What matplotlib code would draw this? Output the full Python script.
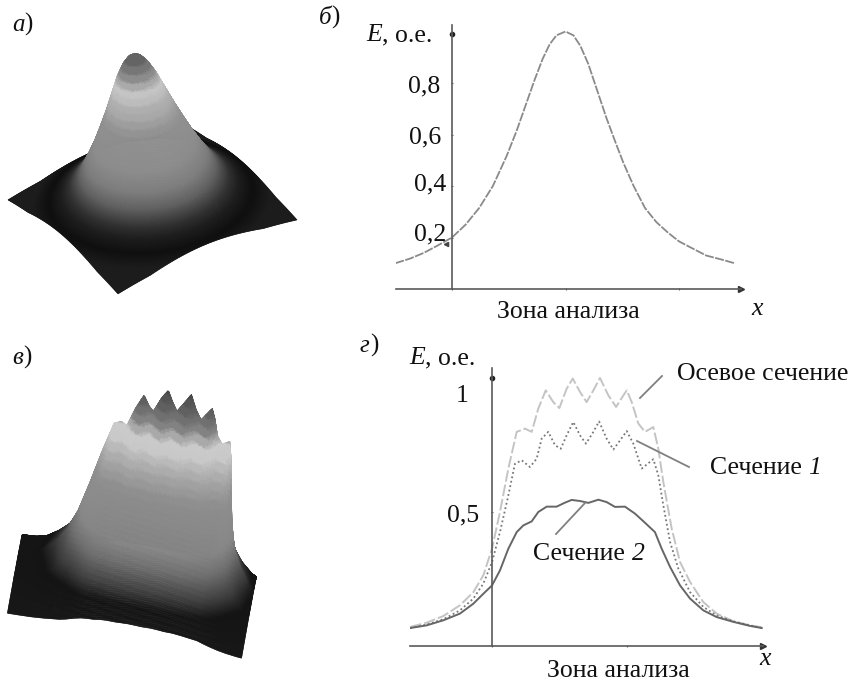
import numpy as np
import matplotlib
matplotlib.use('Agg')
import matplotlib.pyplot as plt
from matplotlib.collections import PolyCollection

# panel b: profile
E_X = [-0.5, -0.37, -0.25, -0.13, 0, 0.12, 0.24, 0.36, 0.48, 0.57, 0.65, 0.73, 0.80, 0.86, 0.92, 1.0,
       1.07, 1.13, 1.2, 1.28, 1.36, 1.44, 1.51, 1.6, 1.7, 1.8, 1.9, 2.0, 2.13, 2.24, 2.37, 2.49]
E_Y = [0.10, 0.118, 0.14, 0.168, 0.20, 0.25, 0.315, 0.40, 0.515, 0.615, 0.715, 0.815, 0.895, 0.95, 0.985, 1.0,
       0.985, 0.945, 0.875, 0.77, 0.665, 0.57, 0.49, 0.40, 0.315, 0.26, 0.22, 0.185, 0.155, 0.13, 0.115, 0.10]
B_YTICKS = ['0,2', '0,4', '0,6', '0,8']

# panel g: three sections
AX_X = [-0.607, -0.484, -0.360, -0.237, -0.138, -0.064, 0, 0.059, 0.121, 0.183, 0.245, 0.294, 0.343, 0.398, 0.454,
        0.499, 0.553, 0.598, 0.652, 0.701, 0.751, 0.800, 0.862, 0.919, 0.973, 0.998, 1.035, 1.084, 1.133, 1.195,
        1.232, 1.269, 1.331, 1.393, 1.467, 1.565, 1.664, 1.788, 1.911, 1.998]
AX_Y = [0.071, 0.087, 0.112, 0.152, 0.201, 0.264, 0.363, 0.500, 0.662, 0.799, 0.811, 0.799, 0.886, 0.954, 0.910,
        0.888, 0.960, 0.998, 0.948, 0.910, 0.954, 1.0, 0.935, 0.892, 0.935, 0.954, 0.910, 0.830, 0.799, 0.817,
        0.736, 0.612, 0.438, 0.313, 0.239, 0.164, 0.121, 0.092, 0.077, 0.070]
S1_X = [-0.607, -0.484, -0.360, -0.237, -0.138, -0.064, 0, 0.059, 0.121, 0.170, 0.220, 0.281, 0.331, 0.368, 0.417,
        0.467, 0.509, 0.553, 0.602, 0.652, 0.696, 0.751, 0.793, 0.849, 0.899, 0.948, 0.998, 1.047, 1.109, 1.195,
        1.232, 1.269, 1.319, 1.380, 1.467, 1.565, 1.664, 1.788, 1.911, 1.998]
S1_Y = [0.067, 0.080, 0.100, 0.133, 0.177, 0.233, 0.313, 0.425, 0.562, 0.680, 0.693, 0.668, 0.699, 0.774, 0.799,
        0.749, 0.736, 0.786, 0.836, 0.786, 0.755, 0.799, 0.838, 0.774, 0.733, 0.767, 0.802, 0.755, 0.662, 0.697,
        0.637, 0.525, 0.388, 0.289, 0.201, 0.146, 0.114, 0.092, 0.077, 0.067]
S2_X = [-0.607, -0.484, -0.360, -0.237, -0.138, -0.064, 0, 0.059, 0.121, 0.183, 0.232, 0.294, 0.343, 0.405, 0.479,
        0.541, 0.590, 0.652, 0.714, 0.788, 0.849, 0.911, 0.985, 1.059, 1.133, 1.207, 1.257, 1.319, 1.393, 1.467,
        1.565, 1.664, 1.788, 1.911, 1.998]
S2_Y = [0.067, 0.077, 0.096, 0.121, 0.158, 0.195, 0.226, 0.282, 0.363, 0.425, 0.450, 0.465, 0.500, 0.520, 0.520,
        0.535, 0.545, 0.541, 0.534, 0.546, 0.537, 0.519, 0.520, 0.494, 0.460, 0.425, 0.363, 0.295, 0.226, 0.177,
        0.133, 0.108, 0.090, 0.075, 0.067]

# grey level as a function of surface height
A_Z = [0, 0.05, 0.09, 0.14, 0.18, 0.25, 0.33, 0.43, 0.58, 0.62, 0.68, 0.72, 0.76, 0.80, 0.84, 0.88, 0.92, 0.96, 1.0]
A_G = [28, 28, 15, 30, 50, 95, 125, 140, 144, 154, 170, 176, 190, 198, 170, 140, 118, 100, 80]
V_Z = [0, 0.14, 0.2, 0.3, 0.38, 0.45, 0.55, 0.6, 0.65, 0.7, 0.75, 0.78, 0.8, 0.84, 0.9, 1.0]
V_G = [24, 20, 60, 110, 135, 138, 142, 154, 168, 187, 208, 200, 175, 130, 100, 64]
# how the sections fall off towards the edge in panel v
FALL_D = [0.5, 0.75, 1.0]
FALL_K = [1.0, 0.6, 0.13]

W, H = 850, 682
plt.rcParams['font.family'] = ['Liberation Serif', 'DejaVu Serif']
FS = 18.5

fig = plt.figure(figsize=(W / 100, H / 100), dpi=100)


def px_axes(left, right, top, bottom):
    return fig.add_axes([left / W, 1 - bottom / H, (right - left) / W, (bottom - top) / H])


def setup_axes(ax, xticks, yticks, dot_y):
    ax.patch.set_visible(False)
    for s in ['top', 'right']:
        ax.spines[s].set_visible(False)
    ax.spines['left'].set_position(('data', 0))
    for s in ['left', 'bottom']:
        ax.spines[s].set_color('#5a5a5a')
        ax.spines[s].set_linewidth(1.2)
    ax.set_xticks(xticks)
    ax.set_yticks(yticks)
    ax.set_xticklabels([])
    ax.set_yticklabels([])
    ax.tick_params(length=2, width=0.8, color='#666666', direction='inout')
    ax.plot(1, 0, '>', color='#333333', ms=4, transform=ax.get_yaxis_transform(), clip_on=False)
    ax.plot(0, dot_y, 'o', color='#222222', ms=3, clip_on=False)


def surface(ax, bx, by, sx, sy, grey):
    # painter's order: far cells (small screen y of the base) first
    polys = np.stack([sx[:-1, :-1], sy[:-1, :-1], sx[:-1, 1:], sy[:-1, 1:],
                      sx[1:, 1:], sy[1:, 1:], sx[1:, :-1], sy[1:, :-1]], axis=-1).reshape(-1, 4, 2)
    g = ((grey[:-1, :-1] + grey[1:, 1:]) / 2).ravel() / 255
    cols = np.stack([g, g, g], axis=1)
    order = np.argsort(by[:-1, :-1].ravel(), kind='stable')
    ax.add_collection(PolyCollection(polys[order], facecolors=cols[order], edgecolors=cols[order], linewidths=0.4))


def mixed(ax, x, y, parts, size=FS):
    r = fig.canvas.get_renderer()
    for s, st in parts:
        t = ax.text(x, y, s, fontsize=size, style=st, va='baseline', ha='left', color='#111111')
        x += t.get_window_extent(r).width + (0.2 if s.endswith(' ') else 0)


# panel b
ax_b = px_axes(396, 741, 25, 289)
ax_b.set_xlim((396 - 452) / 113.5, (741 - 452) / 113.5)
ax_b.set_ylim(0, (289 - 25) / 257.5)
setup_axes(ax_b, [0, 1, 2], [0.2, 0.4, 0.6, 0.8, 1.0], 0.99)
ax_b.plot(E_X, E_Y, color='#8a8a8a', lw=1.3, ls=(0, (5, 0.8)))
ax_b.plot(-0.05, 0.175, '<', color='#444444', ms=3)

# panel g
ax_g = px_axes(410, 763, 368, 646)
ax_g.set_xlim((410 - 492) / 135, (763 - 492) / 135)
ax_g.set_ylim(0, (646 - 368) / 268)
setup_axes(ax_g, [0, 1], [0.5, 1.0], 1.0)
ax_g.plot(AX_X, AX_Y, color='#c4c4c4', lw=1.4, ls=(0, (6, 1.5)))
ax_g.plot(S1_X, S1_Y, color='#777777', lw=1.3, ls=(0, (1, 1.5)))
ax_g.plot(S2_X, S2_Y, color='#666666', lw=1.4, solid_joinstyle='round')

# overlay in pixel coordinates for the surfaces and the lettering
cv = fig.add_axes([0, 0, 1, 1], zorder=5)
cv.set_xlim(0, W)
cv.set_ylim(H, 0)
cv.axis('off')

# panel a: surface of revolution of the measured profile
n = 230
uu, vv = np.meshgrid(np.linspace(-1, 1, n), np.linspace(-1, 1, n))
r = np.hypot(uu, vv) * 1.05
z_a = (np.interp(1 + r, E_X[15:], E_Y[15:]) - 0.10) / 0.90
zq = np.where(z_a > 0.58, np.floor(z_a / 0.04) * 0.04, z_a)
g_a = np.interp(zq, A_Z, A_G)
bx = 152.5 + 89.5 * uu + 55 * vv
by = 210 - 37 * uu + 47 * vv
surface(cv, bx, by, bx - 18 * z_a, by - 155 * z_a, g_a)

# panel v: surface built from the three sections
x_d = 0.58 + uu * 1.03
d = np.abs(vv)
s0 = np.interp(x_d, AX_X, AX_Y)
s1 = np.interp(x_d, S1_X, S1_Y)
s2 = np.interp(x_d, S2_X, S2_Y)
z_v = np.where(d < 0.25, s0 + (s1 - s0) * d / 0.25,
               np.where(d < 0.5, s1 + (s2 - s1) * (d - 0.25) / 0.25, s2 * np.interp(d, FALL_D, FALL_K)))
zq = np.where(z_v > 0.5, np.floor(z_v / 0.035) * 0.035, z_v)
g_v = np.interp(zq, V_Z, V_G)
bx = 131.5 + 117 * uu - 7.5 * vv
by = 599 + 23 * uu + 39.5 * vv
surface(cv, bx, by, bx + 35 * z_v, by - 210 * z_v, g_v)

# panel letters
mixed(cv, 12, 31, [('а', 'italic'), (')', 'normal')], 18)
mixed(cv, 319, 24, [('б', 'italic'), (')', 'normal')], 18)
mixed(cv, 12, 364, [('в', 'italic'), (')', 'normal')], 18)
mixed(cv, 360, 352, [('г', 'italic'), (')', 'normal')], 18)

# panel b text
mixed(cv, 366, 41, [('E', 'italic'), (', о.е.', 'normal')])
for lab, tx, ty in zip(B_YTICKS, [414, 414, 409, 408], [240, 190, 143, 92]):
    cv.text(tx, ty, lab, fontsize=FS, va='baseline', color='#111111')
cv.text(497, 318, 'Зона анализа', fontsize=FS, va='baseline', color='#111111')
mixed(cv, 751, 315, [('x', 'italic')])

# panel g text
mixed(cv, 409, 364, [('E', 'italic'), (', о.е.', 'normal')])
cv.text(456, 402, '1', fontsize=FS, va='baseline', color='#111111')
cv.text(447, 521, '0,5', fontsize=FS, va='baseline', color='#111111')
cv.text(547, 677, 'Зона анализа', fontsize=FS, va='baseline', color='#111111')
mixed(cv, 759, 665, [('x', 'italic')])
cv.text(677, 380, 'Осевое сечение', fontsize=FS, va='baseline', color='#111111')
mixed(cv, 710, 474, [('Сечение ', 'normal'), ('1', 'italic')])
mixed(cv, 533, 560, [('Сечение ', 'normal'), ('2', 'italic')])

# leader lines
cv.plot([640, 662], [398, 376], color='#808080', lw=1.3)
cv.plot([637, 689], [441, 467], color='#808080', lw=1.3)
cv.plot([585, 556], [503, 534], color='#808080', lw=1.3)

fig.savefig('out.png', dpi=100)
